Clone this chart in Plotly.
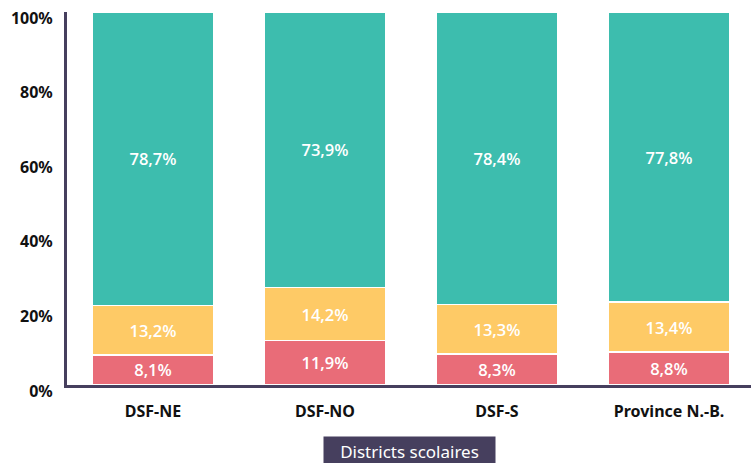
import plotly.graph_objects as go

categories = ["DSF-NE", "DSF-NO", "DSF-S", "Province N.-B."]
red_vals = [8.1, 11.9, 8.3, 8.8]
yellow_vals = [13.2, 14.2, 13.3, 13.4]
teal_vals = [78.7, 73.9, 78.4, 77.8]
y_ticks = [0, 20, 40, 60, 80, 100]
x_title = "Districts scolaires"

FONT = "Noto Sans"
AXIS_COLOR = "#463F5E"

def fmt(vals):
    return [f"{v:.1f}%".replace(".", ",") for v in vals]

fig = go.Figure()
for vals, color in [(red_vals, "#E96C78"), (yellow_vals, "#FECA66"), (teal_vals, "#3DBDAE")]:
    fig.add_trace(go.Bar(
        x=categories, y=vals, text=fmt(vals),
        marker=dict(color=color, line=dict(color="white", width=1.5)),
        textposition="inside", insidetextanchor="middle",
        textfont=dict(family="Open Sans", size=16.5, color="white", weight=600),
        constraintext="none", width=0.71, hoverinfo="skip",
    ))

fig.update_layout(
    barmode="stack",
    width=751, height=463,
    margin=dict(l=67, r=0, t=12, b=78),
    plot_bgcolor="white", paper_bgcolor="white",
    showlegend=False,
    font=dict(family=FONT, color="#111111"),
    xaxis=dict(
        range=[-0.5, 3.477], automargin=False,
        showline=True, linecolor=AXIS_COLOR, linewidth=3,
        showgrid=False, ticks="",
        tickfont=dict(family=FONT, size=16, color="#111111", weight="bold"),
        ticklabelstandoff=10,
    ),
    yaxis=dict(
        range=[0, 100], automargin=False,
        tickvals=y_ticks, ticktext=[f"{t}%" for t in y_ticks],
        showline=True, linecolor=AXIS_COLOR, linewidth=3,
        showgrid=False, zeroline=False, ticks="",
        tickfont=dict(family=FONT, size=16, color="#111111", weight="bold"),
        ticklabelstandoff=8, ticklabelshift=6,
    ),
    annotations=[dict(
        text=x_title, xref="paper", yref="paper", x=0.5, y=-0.137, yanchor="top",
        showarrow=False, bgcolor=AXIS_COLOR,
        font=dict(family=FONT, size=17, color="white"),
        width=163, height=20, borderpad=4,
    )],
)

fig.write_html("out.html", config={"displayModeBar": False},
               post_script="document.body.style.margin='0px';")
